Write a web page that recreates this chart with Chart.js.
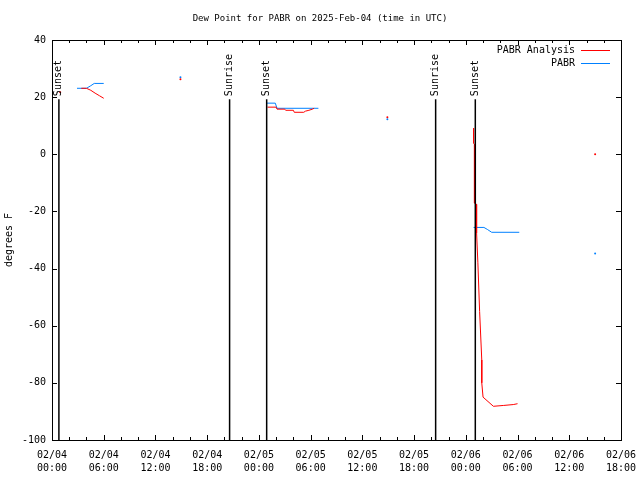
<!DOCTYPE html>
<html lang="en">
<head>
<meta charset="UTF-8">
<title>Dew Point for PABR</title>
<script src="https://cdn.jsdelivr.net/npm/chart.js"></script>
<style>
  html, body { margin: 0; padding: 0; background: #fff; }
  canvas { display: block; }
</style>
</head>
<body>
<canvas id="dewChart" width="640" height="480"></canvas>
<script>
const FONT = '"DejaVu Sans Mono", "Liberation Mono", monospace';

// hours since 2025-02-04 00:00 UTC, a null value breaks the line
const analysisHours  = [0.95, 2.0, 3.4, 4.0, 4.5, 5.0, 5.5, 6.0, 10, 14.9, 20, 25.0, 26.0, 26.1, 27.0, 27.1, 28.0, 28.1, 29.2, 29.4, 29.8, 30.2, 30.4, 35, 38.9, 44, 48.9, 48.9, 49.0, 49.0, 49.25, 49.25, 49.4, 49.6, 49.85, 49.85, 50.0, 51.2, 52.4, 53.5, 54.0, 58, 63.0];
const analysisValues = [21.7, null, 23.1, 23.1, 22.4, 21.4, 20.5, 19.6, null, 26.3, null, 16.5, 16.5, 15.8, 15.8, 15.4, 15.4, 14.7, 14.7, 15.1, 15.4, 15.8, 16.1, null, 13.0, null, 9.1, 3.9, 3.5, -17.1, -17.5, -27.6, -38, -55, -72, -80, -85, -88.2, -87.9, -87.6, -87.3, null, 0.0];

const obsHours  = [2.9, 4.0, 4.5, 4.9, 6.0, 10, 14.9, 20, 24.9, 25.9, 26.1, 30.9, 35, 38.9, 44, 48.9, 50.1, 50.5, 51.0, 54.2, 58, 63.0];
const obsValues = [23.1, 23.1, 24.0, 24.8, 24.8, null, 27.0, null, 17.9, 17.9, 16.1, 16.1, null, 12.3, null, -25.6, -25.6, -26.3, -27.3, -27.3, null, -34.7];

const sunHours  = [0.8, 20.6, 24.9, 44.5, 49.1];
const sunLabels = ['Sunset', 'Sunrise', 'Sunset', 'Sunrise', 'Sunset'];

const dayLabels = ['02/04', '02/05', '02/06'];
const yMin = -100, yMax = 40, yStep = 20;
const xMax = 66;

function toPoints(hours, values) {
    return hours.map((h, i) => ({ x: h, y: values[i] }));
}

// single readings with no neighbours get a dot, lines get none
function loneDot(ctx) {
    const d = ctx.dataset.data;
    const i = ctx.dataIndex;
    if (!d[i] || d[i].y === null) return 0;
    const prev = d[i - 1], next = d[i + 1];
    const lone = (!prev || prev.y === null) && (!next || next.y === null);
    return lone ? 1 : 0;
}

const decor = {
    id: 'decor',
    afterDatasetsDraw(chart) {
        const { ctx, chartArea: a, scales: { x, y } } = chart;
        ctx.save();
        ctx.fillStyle = '#000';
        ctx.strokeStyle = '#000';
        ctx.font = '10px ' + FONT;

        // sunrise / sunset markers
        const lineTop = y.getPixelForValue(19.3);
        sunHours.forEach((h, i) => {
            const px = x.getPixelForValue(h);
            ctx.lineWidth = 1.5;
            ctx.beginPath();
            ctx.moveTo(px, lineTop);
            ctx.lineTo(px, a.bottom);
            ctx.stroke();
            ctx.save();
            ctx.translate(px, lineTop - 3);
            ctx.rotate(-Math.PI / 2);
            ctx.textAlign = 'left';
            ctx.textBaseline = 'middle';
            ctx.fillText(sunLabels[i], 0, 0);
            ctx.restore();
        });

        // frame
        ctx.lineWidth = 1;
        ctx.strokeRect(Math.round(a.left) + 0.5, Math.round(a.top) + 0.5,
                       Math.round(a.width), Math.round(a.height));

        // x ticks, minor every 2h, major every 6h
        ctx.beginPath();
        for (let h = 0; h <= xMax; h += 2) {
            const px = Math.round(x.getPixelForValue(h)) + 0.5;
            const len = h % 6 === 0 ? 5 : 3;
            ctx.moveTo(px, a.bottom); ctx.lineTo(px, a.bottom - len);
            ctx.moveTo(px, a.top); ctx.lineTo(px, a.top + len);
        }
        // y ticks
        for (let v = yMin; v <= yMax; v += yStep) {
            const py = Math.round(y.getPixelForValue(v)) + 0.5;
            ctx.moveTo(a.left, py); ctx.lineTo(a.left + 5, py);
            ctx.moveTo(a.right, py); ctx.lineTo(a.right - 5, py);
        }
        ctx.stroke();

        // y axis title
        ctx.textAlign = 'center';
        ctx.textBaseline = 'middle';
        ctx.save();
        ctx.translate(9, 240);
        ctx.rotate(-Math.PI / 2);
        ctx.fillText('degrees F', 0, 0);
        ctx.restore();

        // legend
        const items = [['PABR Analysis', '#ff0000'], ['PABR', '#0080ff']];
        items.forEach(([label, color], i) => {
            const ly = 50 + i * 13;
            ctx.textAlign = 'right';
            ctx.fillStyle = '#000';
            ctx.fillText(label, 575, ly);
            ctx.strokeStyle = color;
            ctx.lineWidth = 1;
            ctx.beginPath();
            ctx.moveTo(581, ly + 0.5);
            ctx.lineTo(610, ly + 0.5);
            ctx.stroke();
        });

        // title
        ctx.font = '9px ' + FONT;
        ctx.textAlign = 'center';
        ctx.fillStyle = '#000';
        ctx.fillText('Dew Point for PABR on 2025-Feb-04 (time in UTC)', chart.width / 2, 19);
        ctx.restore();
    }
};

new Chart(document.getElementById('dewChart'), {
    type: 'line',
    data: {
        datasets: [
            {
                label: 'PABR Analysis',
                data: toPoints(analysisHours, analysisValues),
                borderColor: '#ff0000',
                backgroundColor: '#ff0000',
                borderWidth: 1,
                pointRadius: loneDot,
                pointBorderWidth: 0,
                pointHoverRadius: 0,
                spanGaps: false,
                tension: 0
            },
            {
                label: 'PABR',
                data: toPoints(obsHours, obsValues),
                borderColor: '#0080ff',
                backgroundColor: '#0080ff',
                borderWidth: 1,
                pointRadius: loneDot,
                pointBorderWidth: 0,
                pointHoverRadius: 0,
                spanGaps: false,
                tension: 0
            }
        ]
    },
    options: {
        responsive: false,
        animation: false,
        layout: { padding: { top: 40, right: 19, left: 0, bottom: 0 } },
        plugins: {
            legend: { display: false },
            title: { display: false },
            tooltip: { enabled: false }
        },
        scales: {
            x: {
                type: 'linear',
                min: 0,
                max: xMax,
                afterFit: s => { s.height = 40; s.paddingLeft = 0; s.paddingRight = 0; },
                grid: { display: false, drawTicks: false },
                border: { display: false },
                ticks: {
                    stepSize: 6,
                    autoSkip: false,
                    maxRotation: 0,
                    padding: 9,
                    color: '#000',
                    font: { family: FONT, size: 10, lineHeight: 1.3 },
                    callback: v => {
                        const day = dayLabels[Math.floor(v / 24)] || '';
                        const hh = String(v % 24).padStart(2, '0');
                        return [day, hh + ':00'];
                    }
                }
            },
            y: {
                min: yMin,
                max: yMax,
                afterFit: s => { s.width = 52; },
                grid: { display: false, drawTicks: false },
                border: { display: false },
                ticks: {
                    stepSize: yStep,
                    padding: 6,
                    color: '#000',
                    font: { family: FONT, size: 10 }
                }
            }
        }
    },
    plugins: [decor]
});
</script>
</body>
</html>
